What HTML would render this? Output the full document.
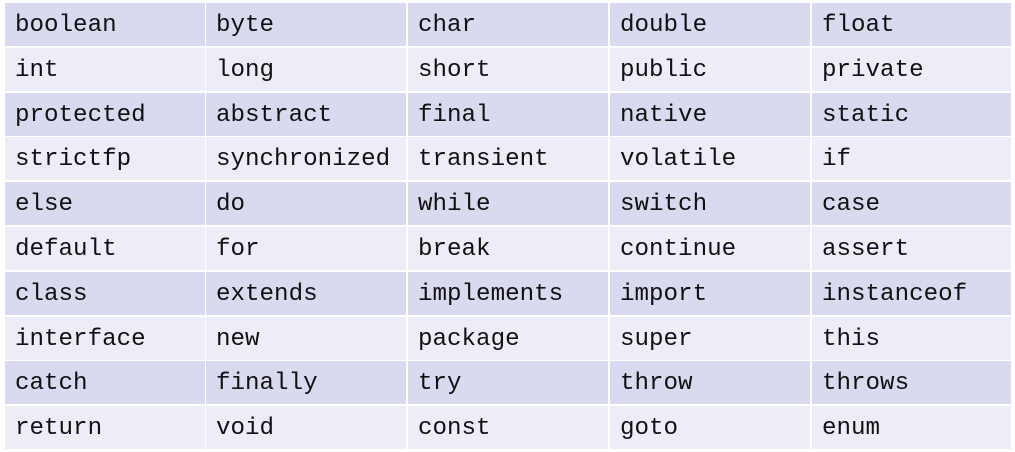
<!DOCTYPE html>
<html><head><style>
body{margin:0;width:1015px;height:452px;background:#fff;position:relative;overflow:hidden}
.c{position:absolute;width:200px;height:43px;font-family:"Liberation Mono",monospace;font-size:24.2px;line-height:46px;padding-left:10px;box-sizing:border-box;color:#111}
.d{background:#d9d9ef}.l{background:#ededf7}
</style></head><body>
<script>
const w=[["boolean","byte","char","double","float"],["int","long","short","public","private"],["protected","abstract","final","native","static"],["strictfp","synchronized","transient","volatile","if"],["else","do","while","switch","case"],["default","for","break","continue","assert"],["class","extends","implements","import","instanceof"],["interface","new","package","super","this"],["catch","finally","try","throw","throws"],["return","void","const","goto","enum"]];
const xs=[5,206,408,610,812];
let h="";
w.forEach((r,i)=>r.forEach((t,j)=>{h+=`<div class="c ${i%2?'l':'d'}" style="left:${xs[j]}px;top:${3+i*44.8}px;width:${j==4?199:200}px">${t}</div>`;}));
document.write(h);
</script>
</body></html>
